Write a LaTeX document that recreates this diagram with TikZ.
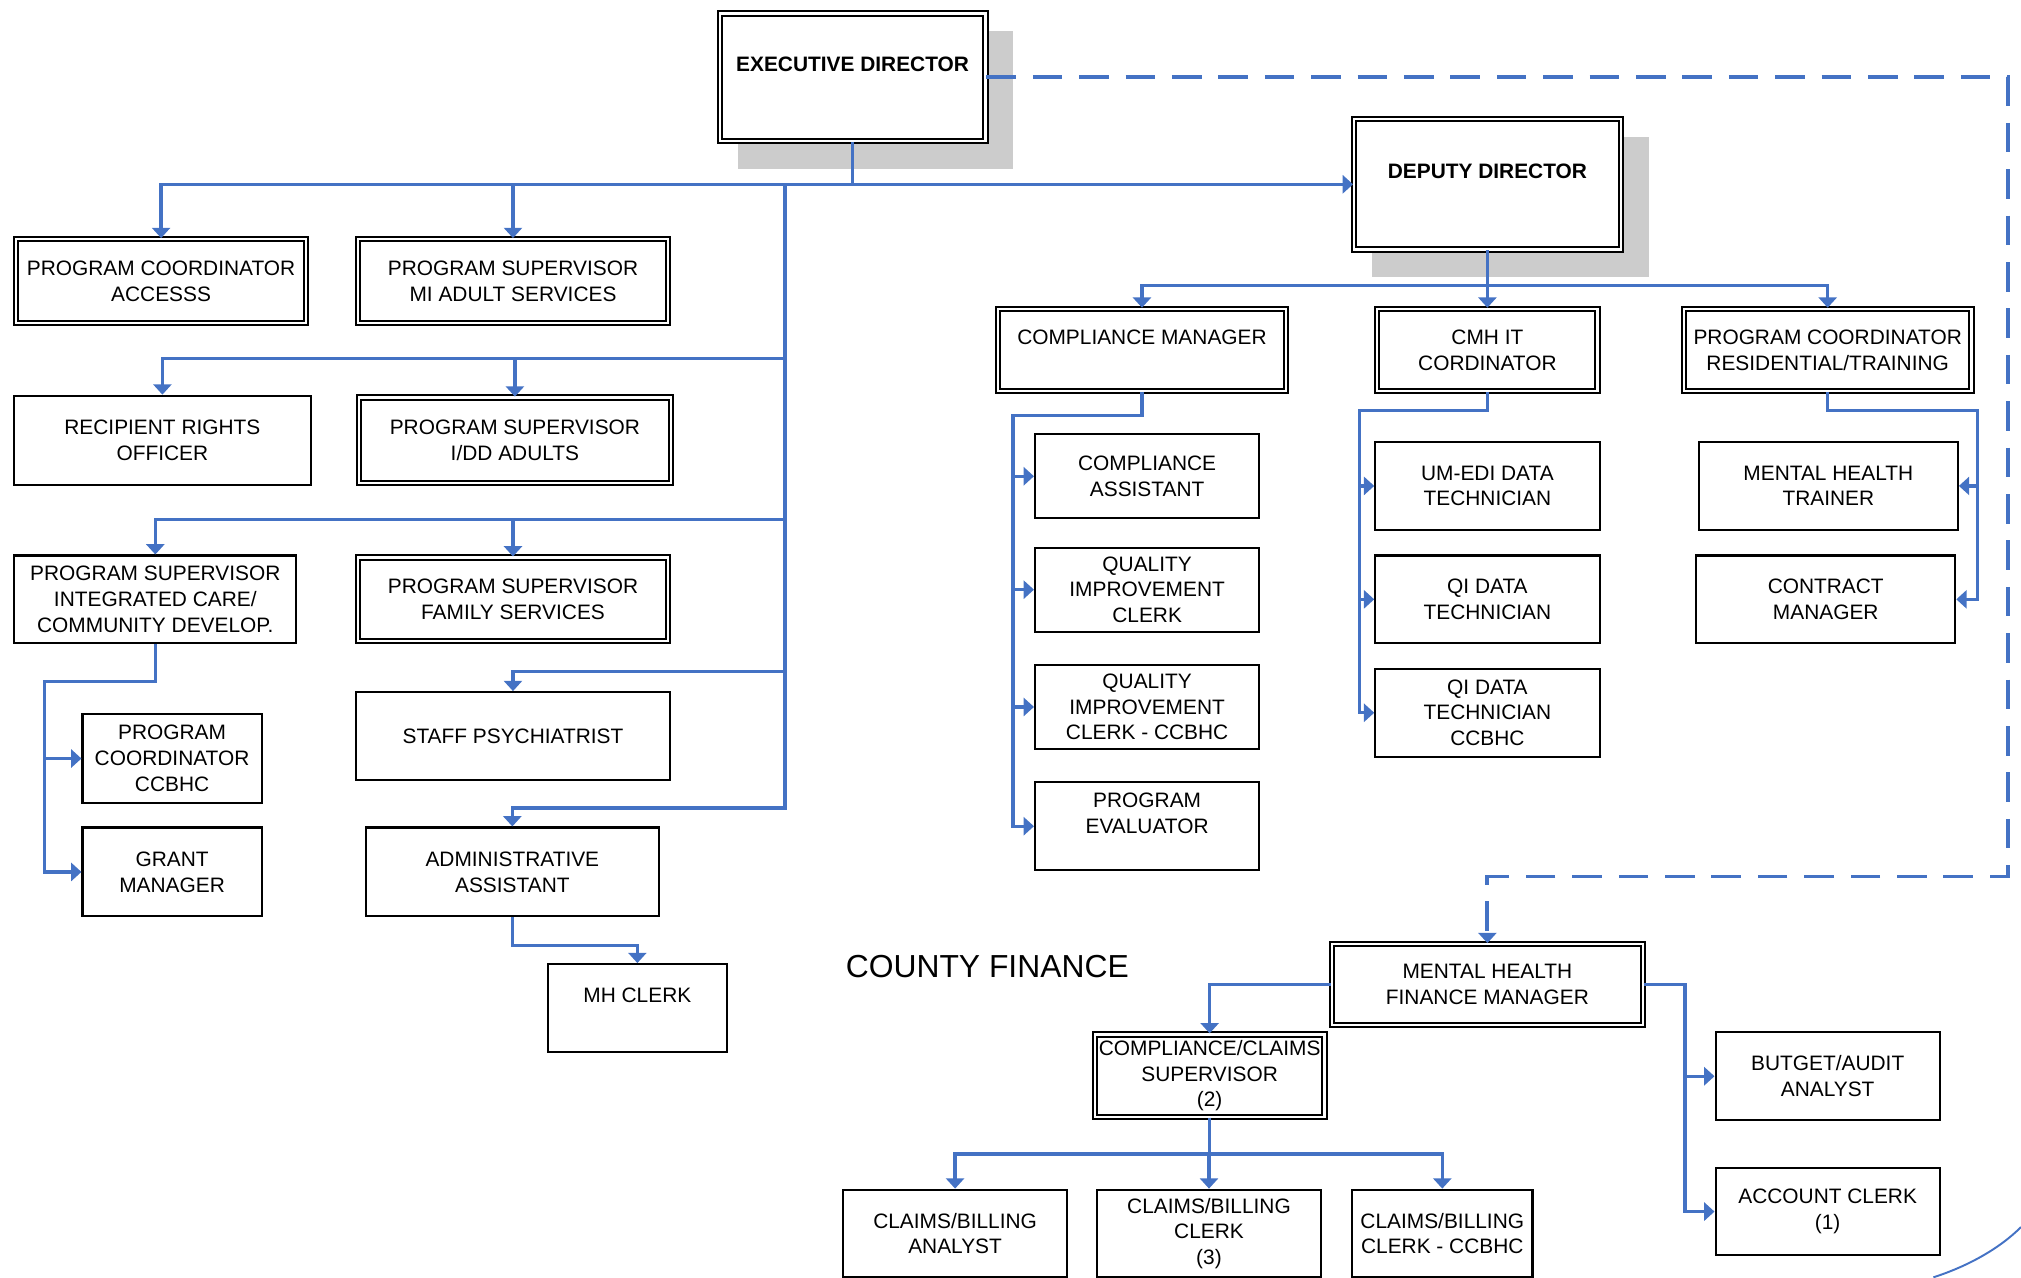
\documentclass[tikz,border=0pt]{standalone}
\usepackage{fontspec}
\setmainfont{Liberation Sans}
\usepackage{tikz}
\usetikzlibrary{arrows.meta}
\usetikzlibrary{shadows}
\definecolor{Office-1}{RGB}{68,114,196}

\tikzset{
  box/.style={draw=black, line width=1.6pt, fill=white, align=center, inner sep=0pt, font=\fontsize{16.2}{20}\selectfont},
  dbox/.style={box, line width=1.55pt, double=white, double distance=1.8pt},
  lift/.style={general shadow={fill=black!20, draw=black!20, line width=7.5pt, shadow xshift=18pt, shadow yshift=-17.5pt}},
  conn/.style={->, >={Triangle[width=14pt,length=8pt]}, Office-1, line width=2.6pt},
  dashconn/.style={conn, line width=3pt, dash pattern=on 23pt off 13pt},
}

\begin{document}
\begin{tikzpicture}[x=1pt, y=-1pt]%[scale=\tikzscale]
  \useasboundingbox (0,0) rectangle (1568,991);
  \clip (0,0) rectangle (1568,991);

  \node[dbox, lift, minimum width=206pt, minimum height=99pt] (exec) at (661.5, 60) {\textbf{EXECUTIVE DIRECTOR}\\~};
  \node[dbox, lift, minimum width=207pt, minimum height=101pt] (deputy) at (1154, 143) {\textbf{DEPUTY DIRECTOR}\\~};

  \node[dbox, minimum width=225pt, minimum height=65pt] (pcaccess) at (125, 218)   {PROGRAM COORDINATOR\\ACCESSS};
  \node[dbox, minimum width=241pt, minimum height=65pt] (psmi)     at (398, 218)   {PROGRAM SUPERVISOR\\MI ADULT SERVICES};
  \node[box,  minimum width=230pt, minimum height=69pt] (rro)      at (126, 341.5) {RECIPIENT RIGHTS\\OFFICER};
  \node[dbox, minimum width=242pt, minimum height=66pt] (psidd)    at (399.5, 341.5) {PROGRAM SUPERVISOR\\I/DD ADULTS};
  \node[box,  minimum width=219pt, minimum height=68pt] (psicare)  at (120.5, 465) {PROGRAM SUPERVISOR\\INTEGRATED CARE/\\COMMUNITY DEVELOP.};
  \node[dbox, minimum width=241pt, minimum height=65pt] (psfamily) at (398, 465)   {PROGRAM SUPERVISOR\\FAMILY SERVICES};
  \node[box,  minimum width=244pt, minimum height=68pt] (psych)    at (398, 571)   {STAFF PSYCHIATRIST};
  \node[box,  minimum width=227pt, minimum height=69pt] (admin)    at (397.5, 676.5) {ADMINISTRATIVE\\ASSISTANT};
  \node[box,  minimum width=139pt, minimum height=68pt] (mhclerk)  at (494.5, 782) {MH CLERK\\~};
  \node[box,  minimum width=139pt, minimum height=69pt] (pcccbhc)  at (133.5, 588.5) {PROGRAM\\COORDINATOR\\CCBHC};
  \node[box,  minimum width=139pt, minimum height=69pt] (grant)    at (133.5, 676.5) {GRANT\\MANAGER};

  \node[dbox, minimum width=223pt, minimum height=64pt] (compmgr) at (886, 271.5)  {COMPLIANCE MANAGER\\~};
  \node[dbox, minimum width=171pt, minimum height=64pt] (cmhit)   at (1154, 271.5) {CMH IT\\CORDINATOR};
  \node[dbox, minimum width=223pt, minimum height=64pt] (pcres)   at (1418, 271.5) {PROGRAM COORDINATOR\\RESIDENTIAL/TRAINING};

  \node[box, minimum width=174pt, minimum height=65pt] (compasst) at (890, 369.5) {COMPLIANCE\\ASSISTANT};
  \node[box, minimum width=174pt, minimum height=65pt] (qiclerk)  at (890, 457.5) {QUALITY\\IMPROVEMENT\\CLERK};
  \node[box, minimum width=174pt, minimum height=65pt] (qiccbhc)  at (890, 548.5) {QUALITY\\IMPROVEMENT\\CLERK - CCBHC};
  \node[box, minimum width=174pt, minimum height=68pt] (progeval) at (890, 641)   {PROGRAM\\EVALUATOR\\~};

  \node[box, minimum width=174pt, minimum height=68pt] (umedi)  at (1154, 377) {UM-EDI DATA\\TECHNICIAN};
  \node[box, minimum width=174pt, minimum height=68pt] (qidata) at (1154, 465) {QI DATA\\TECHNICIAN};
  \node[box, minimum width=174pt, minimum height=68pt] (qitech) at (1154, 553) {QI DATA\\TECHNICIAN\\CCBHC};

  \node[box, minimum width=201pt, minimum height=68pt] (mhtrainer) at (1418.5, 377) {MENTAL HEALTH\\TRAINER};
  \node[box, minimum width=201pt, minimum height=68pt] (contract)  at (1416.5, 465) {CONTRACT\\MANAGER};

  \node[font=\fontsize{24.7}{30}\selectfont, inner sep=0pt] (countyfin) at (766, 750) {COUNTY FINANCE};

  \node[dbox, minimum width=241pt, minimum height=63pt] (finmgr)   at (1154, 764)   {MENTAL HEALTH\\FINANCE MANAGER};
  \node[dbox, minimum width=178pt, minimum height=64pt] (claimsup) at (938.5, 834.5) {COMPLIANCE/CLAIMS\\SUPERVISOR\\(2)};
  \node[box,  minimum width=174pt, minimum height=68pt] (budget)    at (1418, 835) {BUTGET/AUDIT\\ANALYST};
  \node[box,  minimum width=174pt, minimum height=68pt] (acctclerk) at (1418, 940) {ACCOUNT CLERK\\(1)};
  \node[box,  minimum width=174pt, minimum height=68pt] (cbanalyst) at (741, 957)  {CLAIMS/BILLING\\ANALYST};
  \node[box,  minimum width=174pt, minimum height=68pt] (cbclerk)   at (938, 957)  {CLAIMS/BILLING\\CLERK\\(3)};
  \node[box,  minimum width=140pt, minimum height=68pt] (cbccbhc)   at (1119, 957) {CLAIMS/BILLING\\CLERK - CCBHC};

  % executive director
  \coordinate (trunk) at (609, 143);
  \draw[conn] (exec.south) |- (deputy.west);
  \draw[conn] (exec.south) |- (trunk) -| (pcaccess.north);
  \draw[conn] (exec.south) |- (trunk) -| (psmi.north);
  \draw[conn] (trunk) -- ++(0,135) -| (rro.north);
  \draw[conn] (trunk) -- ++(0,135) -| (psidd.north);
  \draw[conn] (trunk) -- ++(0,260) -| (psicare.north);
  \draw[conn] (trunk) -- ++(0,260) -| (psfamily.north);
  \draw[conn] (trunk) -- ++(0,378) -| (psych.north);
  \draw[conn] (trunk) -- ++(0,484) -| (admin.north);

  \draw[conn] (psicare.south) -- ++(0,29) -- ++(-86,0) |- (pcccbhc.west);
  \draw[conn] (psicare.south) -- ++(0,29) -- ++(-86,0) |- (grant.west);
  \draw[conn] (admin.south) -- ++(0,22) -| (mhclerk.north);

  % deputy director
  \draw[conn] (deputy.south) -- ++(0,27) -| (compmgr.north);
  \draw[conn] (deputy.south) -- ++(0,27) -| (cmhit.north);
  \draw[conn] (deputy.south) -- ++(0,27) -| (pcres.north);

  \draw[conn] (compmgr.south) -- ++(0,18) -- ++(-100,0) |- (compasst.west);
  \draw[conn] (compmgr.south) -- ++(0,18) -- ++(-100,0) |- (qiclerk.west);
  \draw[conn] (compmgr.south) -- ++(0,18) -- ++(-100,0) |- (qiccbhc.west);
  \draw[conn] (compmgr.south) -- ++(0,18) -- ++(-100,0) |- (progeval.west);

  \draw[conn] (cmhit.south) -- ++(0,14) -- ++(-99,0) |- (umedi.west);
  \draw[conn] (cmhit.south) -- ++(0,14) -- ++(-99,0) |- (qidata.west);
  \draw[conn] (cmhit.south) -- ++(0,14) -- ++(-99,0) |- (qitech.west);

  \draw[conn] (pcres.south) -- ++(0,14) -- ++(116,0) |- (mhtrainer.east);
  \draw[conn] (pcres.south) -- ++(0,14) -- ++(116,0) |- (contract.east);

  % county finance
  \coordinate (dashturn) at (1558, 680);
  \draw[dashconn] (exec.east) -| (dashturn) -| (finmgr.north);

  \draw[conn] (finmgr.west) -| (claimsup.north);
  \draw[conn] (finmgr.east) -- ++(32,0) |- (budget.west);
  \draw[conn] (finmgr.east) -- ++(32,0) |- (acctclerk.west);

  \draw[conn] (claimsup.south) -- ++(0,28) -| (cbanalyst.north);
  \draw[conn] (claimsup.south) -- ++(0,28) -| (cbclerk.north);
  \draw[conn] (claimsup.south) -- ++(0,28) -| (cbccbhc.north);

  \draw[Office-1, line width=1.5pt] (1500, 991) .. controls (1528, 982) and (1552, 968) .. (1568, 952);
\end{tikzpicture}
\end{document}
